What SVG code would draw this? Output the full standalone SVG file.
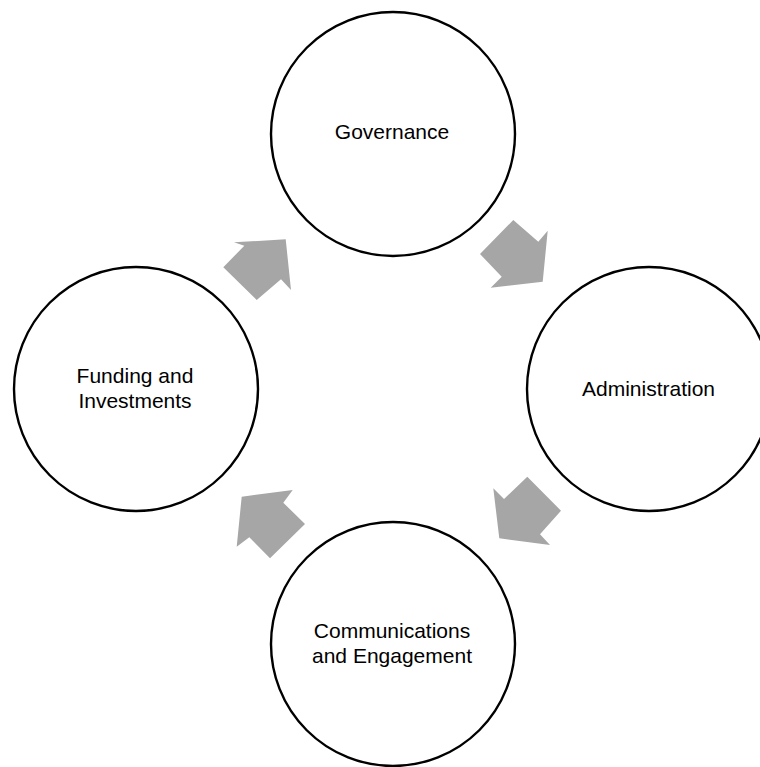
<svg xmlns="http://www.w3.org/2000/svg" width="760" height="767" viewBox="0 0 760 767">
<style>
.node circle{fill:#fff;stroke:#000;stroke-width:2.4}
.node text{font-family:"Liberation Sans",Arial,sans-serif;font-size:21px;fill:#000;text-anchor:middle}
.arrow{fill:#A6A6A6}
</style>
<rect width="760" height="767" fill="#fff"/>
<g id="node-governance" class="node">
<circle cx="393" cy="134" r="122"/>
<text x="392" y="139">Governance</text>
</g>
<g id="node-administration" class="node">
<circle cx="649" cy="389" r="122"/>
<text x="648.5" y="396">Administration</text>
</g>
<g id="node-communications" class="node">
<circle cx="393" cy="644" r="122"/>
<text x="392" y="638">Communications</text>
<text x="392" y="663">and Engagement</text>
</g>
<g id="node-funding" class="node">
<circle cx="136" cy="389" r="122"/>
<text x="135" y="383">Funding and</text>
<text x="135" y="408">Investments</text>
</g>
<g id="connectors">
<polygon class="arrow" points="513.3,220 480,254 501.7,276.7 490.7,287.7 542.7,281.7 547.7,230.7 538.3,241.7"/>
<polygon class="arrow" points="527.3,476.7 561,510.7 540,534.3 550,545 499.3,538.3 493.3,488.3 504,499"/>
<polygon class="arrow" points="305,524 270,558.3 249.3,537.3 236.7,546.7 241.7,496.7 292.7,490 283.3,502.7"/>
<polygon class="arrow" points="256.7,300 223.3,267.3 244.3,245.7 234,242.3 285.7,239.3 291,290 281,279.3"/>
</g>
</svg>
